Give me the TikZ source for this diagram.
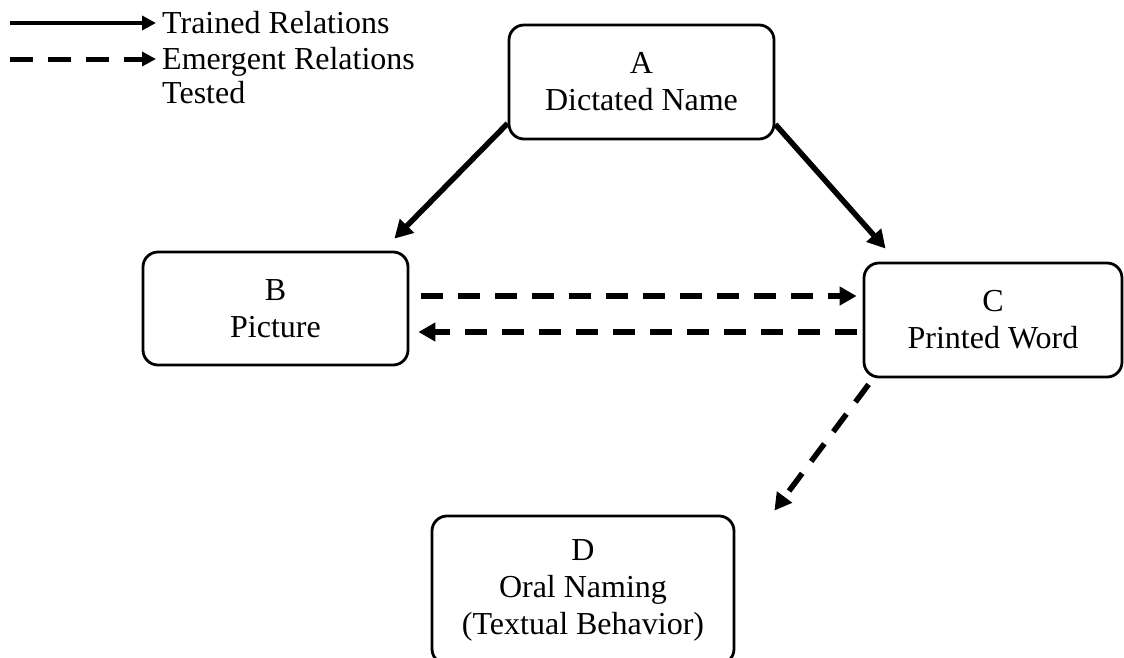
\documentclass[tikz,border=0pt]{standalone}
\usepackage{fontspec}
\setmainfont{Liberation Serif}
\usetikzlibrary{arrows.meta,calc}
\tikzset{
  box/.style={draw, line width=2.8pt, rounded corners=15pt, align=center, inner sep=0pt},
  trained/.style={line width=5.5pt, -{Triangle[length=18pt,width=19pt]}},
  emergent/.style={line width=5.5pt, dash pattern=on 22pt off 15pt, -{Triangle[length=17pt,width=18pt]}},
  legtrained/.style={line width=4.5pt, -{Triangle[length=14pt,width=14pt]}},
  legemergent/.style={line width=5pt, dash pattern=on 23pt off 15pt, -{Triangle[length=14pt,width=14pt]}},
  leg/.style={anchor=base west, inner sep=0pt}
}
\begin{document}
\begin{tikzpicture}[x=1pt,y=-1pt,font=\fontsize{32}{37}\selectfont]
\path[use as bounding box, clip] (0,0) rectangle (1124,657);
\fill[white] (0,0) rectangle (1124,657);

% legend
\coordinate (l1a) at (10,23);
\coordinate (l1b) at (156,23);
\coordinate (l2a) at (10,59);
\coordinate (l2b) at (156,59);
\draw[legtrained] (l1a) -- (l1b);
\draw[legemergent] (l2a) -- (l2b);
\node[leg] (L1) at (162,33) {Trained Relations};
\node[leg] (L2) at (162,69) {Emergent Relations};
\node[leg] (L3) at (162,103) {Tested};

% boxes
\node[box, minimum width=265pt, minimum height=114pt] (A) at (641.5,82) {A\\Dictated Name};
\node[box, minimum width=265pt, minimum height=113pt] (B) at (275.5,308.5) {B\\Picture};
\node[box, minimum width=258pt, minimum height=114pt] (C) at (993,320) {C\\Printed Word};
\node[box, minimum width=302pt, minimum height=148pt] (D) at (583,590) {D\\Oral Naming\\(Textual Behavior)};

% connectors
\draw[trained] ($(A.south west)+(0,-17)$) -- ($(B.north east)+(-15,-12)$);
\draw[trained] ($(A.south east)+(0,-16)$) -- ($(C.north west)+(23,-13)$);
\draw[emergent] ($(B.east)+(12,-12.5)$) -- ($(C.west)+(-6,-24)$);
\draw[emergent] ($(C.west)+(-6,12)$) -- ($(B.east)+(9,23.5)$);
\draw[emergent] ($(C.south west)+(6,6)$) -- ($(D.north east)+(39,-4)$);
\end{tikzpicture}
\end{document}
